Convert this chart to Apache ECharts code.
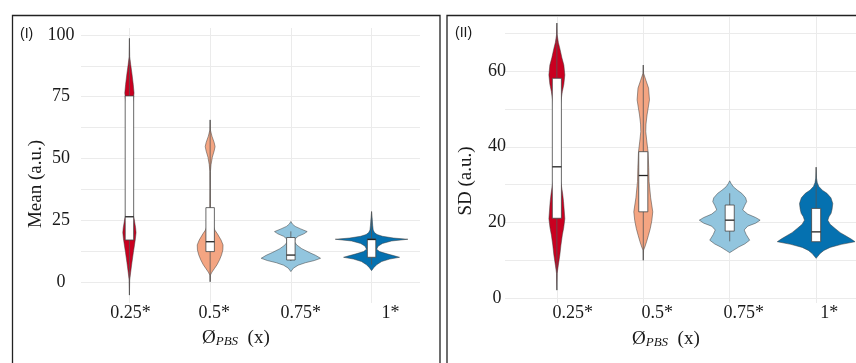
<!DOCTYPE html>
<html><head><meta charset="utf-8">
<script src="https://cdn.jsdelivr.net/npm/echarts@6/dist/echarts.min.js"></script>
<style>html,body{margin:0;padding:0;background:#fff}#c{width:856px;height:363px}</style>
</head><body><div id="c"></div>
<script>
// ---------------- data ----------------
const categories = ['0.25*', '0.5*', '0.75*', '1*'];
const meanTicks = [0, 25, 50, 75, 100];
const meanGridValues = [0, 12.5, 25, 37.5, 50, 62.5, 75, 87.5, 100];
const sdTicks = [0, 20, 40, 60];
const sdGridValues = [0, 10, 20, 30, 40, 50, 60, 70];

// violin profiles: [value, relative density (1 = widest violin of the panel)]
const meanViolin025 = [[98.6,0],[91.2,0.008],[88,0.035],[84.5,0.068],[80,0.105],[76.5,0.128],[74,0.11],[71,0.06],[66,0.025],[58,0.015],[45,0.012],[35,0.025],[29,0.07],[25.5,0.13],[22,0.17],[20,0.183],[17.5,0.165],[15,0.14],[12,0.109],[8,0.07],[4,0.035],[0.8,0.008],[-5.3,0]];
const meanViolin05 = [[65.6,0],[61.5,0.008],[59,0.05],[56.5,0.11],[54.8,0.136],[53,0.11],[50.5,0.06],[47.5,0.025],[44.7,0.008],[38,0.006],[30,0.01],[26,0.02],[23.8,0.055],[21,0.13],[19.5,0.2],[17,0.3],[15,0.355],[13,0.35],[11,0.315],[9,0.26],[7,0.19],[5.5,0.12],[4,0.05],[2.8,0.008],[0.1,0]];
const meanViolin075 = [[24.5,0],[23.5,0.04],[22.5,0.12],[21.5,0.27],[20.4,0.45],[19.5,0.36],[18.5,0.2],[17.5,0.12],[16.3,0.1],[15,0.16],[13.5,0.3],[12,0.5],[10.8,0.68],[9.6,0.817],[8.7,0.65],[7.8,0.4],[6.8,0.2],[5.6,0.07],[4.2,0]];
const meanViolin1 = [[28.5,0],[26,0.015],[23,0.03],[21,0.045],[20,0.08],[19.2,0.15],[18.5,0.3],[17.8,0.6],[17.3,1.0],[16.6,0.55],[15.6,0.3],[14.5,0.18],[13.3,0.14],[12.3,0.22],[11.3,0.45],[10.5,0.65],[10,0.771],[9.3,0.5],[8.3,0.28],[7,0.14],[5.8,0.06],[4.6,0]];

const sdViolin025 = [[72.7,0],[69.6,0.008],[67.5,0.04],[66,0.077],[63.5,0.13],[61.6,0.18],[59,0.205],[56.5,0.18],[54.6,0.141],[51.9,0.103],[48,0.055],[42,0.03],[36,0.035],[32,0.07],[29.9,0.115],[27.5,0.15],[25.5,0.172],[21,0.205],[18.5,0.175],[16.7,0.141],[14,0.105],[11.4,0.077],[8.5,0.035],[6.5,0.008],[2.1,0]];
const sdViolin05 = [[61.6,0],[59.4,0.008],[57.5,0.07],[55.5,0.136],[52.4,0.159],[50.5,0.13],[48.4,0.097],[46,0.07],[44,0.064],[41.5,0.09],[38.7,0.123],[34.5,0.14],[30.8,0.149],[26.5,0.19],[22.8,0.244],[20.5,0.22],[18.4,0.18],[16.5,0.13],[14.9,0.085],[13.5,0.04],[12.7,0.008],[10,0]];
const sdViolin075 = [[31,0],[30.2,0.04],[29.4,0.095],[28.5,0.2],[27.7,0.308],[26.5,0.41],[25.5,0.436],[24.5,0.385],[23.3,0.333],[22.2,0.462],[21.3,0.667],[20.6,0.782],[19.8,0.667],[19,0.462],[18,0.372],[16.8,0.423],[15.3,0.513],[14.3,0.385],[13.5,0.231],[12.5,0.077],[12,0]];
const sdViolin1 = [[34.6,0],[31.7,0.01],[30.5,0.03],[29.5,0.069],[28.5,0.16],[27.7,0.277],[26.5,0.38],[25,0.428],[23.5,0.41],[22.4,0.385],[21.5,0.33],[20.6,0.3],[19.5,0.36],[18.4,0.487],[17.3,0.62],[16.4,0.769],[15.6,0.9],[14.9,1.0],[14.2,0.65],[13.4,0.359],[12.6,0.2],[11.8,0.103],[11,0.04],[10.5,0]];

// boxes: [lower whisker, Q1, median, Q3, upper whisker]
const meanBoxes = [[-5.3,17,26.4,75.3,98.6],[0.1,12.3,16.3,30.1,65.6],[8.5,8.9,10.9,18,20.5],[7,10,17.2,17.4,28.5]];
const sdBoxes = [[2.1,21.1,34.7,58.1,72.7],[10,22.8,32.4,38.7,61.6],[15,17.7,20.6,24.6,27.7],[14.9,14.9,17.5,23.7,34.6]];

const meanViolins = [meanViolin025, meanViolin05, meanViolin075, meanViolin1];
const sdViolins = [sdViolin025, sdViolin05, sdViolin075, sdViolin1];

// ---------------- style ----------------
const colors = ['#CA0020', '#F4A582', '#92C5DE', '#0571B0'];
const FONT = '"Liberation Serif", "Times New Roman", serif';
const SANS = '"Liberation Sans", Arial, sans-serif';
const TXT = '#1a1a1a';
const GRID = '#ebebeb';

function violinRender(profiles) {
  return function (params, api) {
    const i = params.dataIndex;
    const xc = api.value(0);
    const half = 0.45 * api.size([1, 0])[0];
    const right = [], left = [];
    profiles[i].forEach(function (p) {
      const c = api.coord([xc, p[0]]);
      right.push([c[0] + p[1] * half, c[1]]);
      left.push([c[0] - p[1] * half, c[1]]);
    });
    return {
      type: 'polygon',
      shape: { points: right.concat(left.reverse()) },
      style: { fill: colors[i], stroke: '#3a3a3a', lineWidth: 0.5 }
    };
  };
}
function boxRender(boxes) {
  return function (params, api) {
    const i = params.dataIndex;
    const xc = api.value(0);
    const b = boxes[i];
    const hw = 0.0525 * api.size([1, 0])[0];
    const lo = api.coord([xc, b[0]]), q1 = api.coord([xc, b[1]]), md = api.coord([xc, b[2]]),
          q3 = api.coord([xc, b[3]]), hi = api.coord([xc, b[4]]);
    return {
      type: 'group',
      children: [
        { type: 'line', shape: { x1: hi[0], y1: hi[1], x2: lo[0], y2: lo[1] }, style: { stroke: '#555', lineWidth: 0.8 } },
        { type: 'rect', shape: { x: q3[0] - hw, y: q3[1], width: 2 * hw, height: q1[1] - q3[1] }, style: { fill: '#fff', stroke: '#444', lineWidth: 0.8 } },
        { type: 'line', shape: { x1: md[0] - hw, y1: md[1], x2: md[0] + hw, y2: md[1] }, style: { stroke: '#222', lineWidth: 1.3 } }
      ]
    };
  };
}
function xAxis(gridIndex, offsets) {
  const rich = {};
  offsets.forEach(function (o, i) {
    rich['s' + i] = { fontFamily: FONT, fontSize: 18, color: TXT, padding: [0, 0, 0, 2 * o], lineHeight: 20 };
  });
  return {
    type: 'value', gridIndex: gridIndex, min: 0.4, max: 4.6,
    axisLine: { show: false },
    axisTick: { show: false, customValues: [1, 2, 3, 4] },
    splitLine: { show: true, lineStyle: { color: GRID, width: 1 } },
    axisLabel: {
      customValues: [1, 2, 3, 4], margin: 0,
      formatter: function (v) { const i = Math.round(v) - 1; return '{s' + i + '|' + categories[i] + '}'; },
      rich: rich
    }
  };
}
function yAxis(gridIndex, min, max, gridVals, labels, margin) {
  return {
    type: 'value', gridIndex: gridIndex, min: min, max: max,
    axisLine: { show: false },
    axisTick: { show: false, customValues: gridVals },
    splitLine: { show: true, lineStyle: { color: GRID, width: 1 } },
    axisLabel: { customValues: labels, align: 'center', margin: margin, fontFamily: FONT, fontSize: 18, color: TXT }
  };
}
const idxData = categories.map(function (c, i) { return [i + 1, 0]; });

const option = {
  animation: false,
  backgroundColor: '#fff',
  grid: [
    { left: 81, right: 436, top: 28, bottom: 60, outerBoundsMode: 'none', containLabel: false },
    { left: 505, right: -12, top: 17, bottom: 60, outerBoundsMode: 'none', containLabel: false }
  ],
  xAxis: [xAxis(0, [1, 4, 10, 19]), xAxis(1, [16, 14, 14, 13])],
  yAxis: [yAxis(0, -8.5, 102.8, meanGridValues, meanTicks, 20), yAxis(1, -1.3, 74.3, sdGridValues, sdTicks, 8)],
  series: [
    { type: 'custom', xAxisIndex: 0, yAxisIndex: 0, data: idxData, renderItem: violinRender(meanViolins), clip: true, silent: true },
    { type: 'custom', xAxisIndex: 0, yAxisIndex: 0, data: idxData, renderItem: boxRender(meanBoxes), clip: true, silent: true },
    { type: 'custom', xAxisIndex: 1, yAxisIndex: 1, data: idxData, renderItem: violinRender(sdViolins), clip: true, silent: true },
    { type: 'custom', xAxisIndex: 1, yAxisIndex: 1, data: idxData, renderItem: boxRender(sdBoxes), clip: true, silent: true }
  ],
  graphic: [
    { type: 'rect', shape: { x: 12.5, y: 15.5, width: 427.5, height: 400 }, style: { fill: 'none', stroke: '#222', lineWidth: 1.3 } },
    { type: 'rect', shape: { x: 447, y: 15.5, width: 430, height: 400 }, style: { fill: 'none', stroke: '#222', lineWidth: 1.3 } },
    { type: 'text', x: 20, y: 34, style: { text: '(I)', font: '14px ' + SANS, fill: TXT, align: 'left', verticalAlign: 'middle', textAlign: 'left', textVerticalAlign: 'middle' } },
    { type: 'text', x: 455, y: 33, style: { text: '(II)', font: '14px ' + SANS, fill: TXT, align: 'left', verticalAlign: 'middle', textAlign: 'left', textVerticalAlign: 'middle' } },
    { type: 'text', x: 36, y: 184, rotation: Math.PI / 2, style: { text: 'Mean (a.u.)', font: '19px ' + FONT, fill: TXT, align: 'center', verticalAlign: 'middle', textAlign: 'center', textVerticalAlign: 'middle' } },
    { type: 'text', x: 466, y: 181, rotation: Math.PI / 2, style: { text: 'SD (a.u.)', font: '19px ' + FONT, fill: TXT, align: 'center', verticalAlign: 'middle', textAlign: 'center', textVerticalAlign: 'middle' } },
    { type: 'text', x: 202, y: 338, style: { text: '{a|Ø}{b|PBS}{c|  (x)}', align: 'left', verticalAlign: 'middle', textAlign: 'left', textVerticalAlign: 'middle',
        rich: { a: { fontFamily: FONT, fontSize: 19, fill: TXT, color: TXT, lineHeight: 20 }, b: { fontFamily: FONT, fontStyle: 'italic', fontSize: 13, fill: TXT, color: TXT, verticalAlign: 'bottom', lineHeight: 14 }, c: { fontFamily: FONT, fontSize: 19, fill: TXT, color: TXT, lineHeight: 20 } } } },
    { type: 'text', x: 632, y: 339, style: { text: '{a|Ø}{b|PBS}{c|  (x)}', align: 'left', verticalAlign: 'middle', textAlign: 'left', textVerticalAlign: 'middle',
        rich: { a: { fontFamily: FONT, fontSize: 19, fill: TXT, color: TXT, lineHeight: 20 }, b: { fontFamily: FONT, fontStyle: 'italic', fontSize: 13, fill: TXT, color: TXT, verticalAlign: 'bottom', lineHeight: 14 }, c: { fontFamily: FONT, fontSize: 19, fill: TXT, color: TXT, lineHeight: 20 } } } }
  ]
};
const chart = echarts.init(document.getElementById('c'));
chart.setOption(option);
</script>
</body></html>
